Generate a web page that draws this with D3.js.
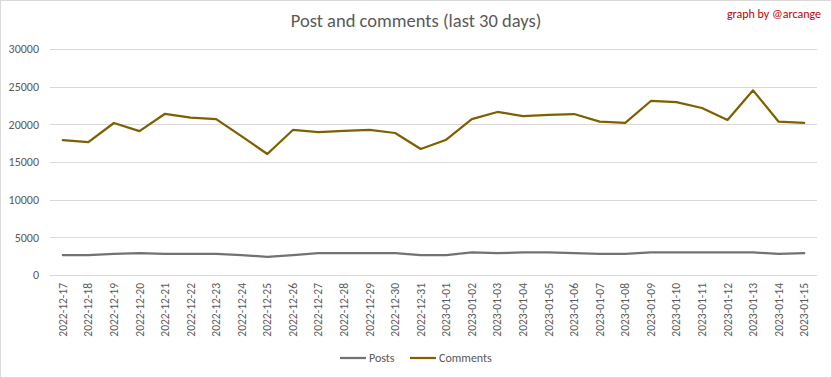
<!DOCTYPE html>
<html><head><meta charset="utf-8">
<script src="https://cdn.jsdelivr.net/npm/d3@7"></script>
<style>body{margin:0;background:#fff}svg{display:block}</style>
</head><body>
<svg id="chart" width="832" height="378"></svg>
<script>
const dates = ["2022-12-17","2022-12-18","2022-12-19","2022-12-20","2022-12-21","2022-12-22","2022-12-23","2022-12-24","2022-12-25","2022-12-26","2022-12-27","2022-12-28","2022-12-29","2022-12-30","2022-12-31","2023-01-01","2023-01-02","2023-01-03","2023-01-04","2023-01-05","2023-01-06","2023-01-07","2023-01-08","2023-01-09","2023-01-10","2023-01-11","2023-01-12","2023-01-13","2023-01-14","2023-01-15"];
const posts = [2650,2650,2800,2900,2800,2800,2800,2650,2400,2650,2900,2900,2900,2900,2650,2650,3000,2900,3000,3000,2900,2800,2800,3000,3000,3000,3000,3000,2800,2900];
const comments = [17900,17650,20180,19100,21400,20880,20700,18400,16060,19250,18980,19120,19250,18850,16730,17960,20700,21640,21100,21240,21370,20350,20180,23100,22960,22170,20580,24510,20350,20180];
const yTicks = [0,5000,10000,15000,20000,25000,30000];
const seriesNames = ["Posts","Comments"];
const colors = ["#767171","#7f6000"];
const font = "Calibri, Carlito, 'Liberation Sans Narrow', 'Open Sans', sans-serif";

(function(){
const svg = d3.select("#chart");
svg.append("rect").attr("x",0.5).attr("y",0.5).attr("width",831).attr("height",377)
  .attr("fill","#fff").attr("stroke","#d9d9d9");

const pl = 50, pr = 817, pt = 49, pb = 275;
const x = d3.scaleBand().domain(dates).range([pl,pr]);
const y = d3.scaleLinear().domain([0,30000]).range([pb,pt]);

svg.append("g").selectAll("line").data(yTicks).join("line")
  .attr("x1",pl).attr("x2",pr)
  .attr("y1",d=>Math.round(y(d))+0.5).attr("y2",d=>Math.round(y(d))+0.5)
  .attr("stroke","#d9d9d9").attr("stroke-width",1);

const yAxis = d3.axisLeft(y).tickValues(yTicks).tickSize(0).tickPadding(0).tickFormat(d3.format("d"));
const gy = svg.append("g").attr("transform",`translate(${pl-11},0)`).call(yAxis);
gy.select(".domain").remove();
gy.selectAll("text").attr("fill","#595959").style("font-family",font).style("font-size","12px");

const xAxis = d3.axisBottom(x).tickSize(0).tickPadding(0);
const gx = svg.append("g").attr("transform",`translate(0,${pb})`).call(xAxis);
gx.select(".domain").remove();
gx.selectAll("text").attr("fill","#595959").style("font-family",font).style("font-size","11.5px")
  .attr("text-anchor","end").attr("dy","0.35em")
  .attr("transform","translate(0,8) rotate(-90)").attr("x",0).attr("y",0);

const line = d3.line().x((d,i)=>x(dates[i])+x.bandwidth()/2).y(d=>y(d));
[posts,comments].forEach((s,k)=>{
  svg.append("path").datum(s).attr("d",line).attr("fill","none")
    .attr("stroke",colors[k]).attr("stroke-width",2.25).attr("stroke-linejoin","round").attr("stroke-linecap","round");
});

svg.append("text").attr("x",416).attr("y",27).attr("text-anchor","middle")
  .attr("fill","#595959").style("font-family",font).style("font-size","18.5px").style("font-weight","300")
  .text("Post and comments (last 30 days)");
svg.append("text").attr("x",821).attr("y",18).attr("text-anchor","end")
  .attr("fill","#c00000").style("font-family",font).style("font-size","12px")
  .text("graph by @arcange");

const legX = [340,410];
seriesNames.forEach((n,k)=>{
  const g = svg.append("g").attr("transform",`translate(${legX[k]},358)`);
  g.append("line").attr("x1",0).attr("x2",26).attr("y1",0).attr("y2",0)
    .attr("stroke",colors[k]).attr("stroke-width",2.25);
  g.append("text").attr("x",29).attr("y",0).attr("dy","0.35em").attr("fill","#595959")
    .style("font-family",font).style("font-size","12px").text(n);
});
})();
</script>
</body></html>
